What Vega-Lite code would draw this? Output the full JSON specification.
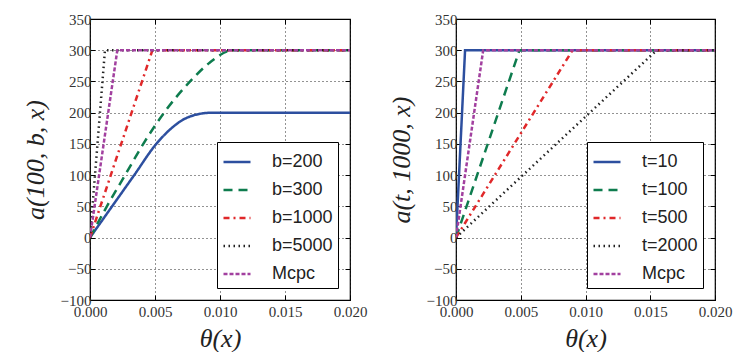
{
  "$schema": "https://vega.github.io/schema/vega-lite/v6.json",
  "padding": {"left": 21, "top": 11, "right": 0, "bottom": 0},
  "background": "white",
  "datasets": {
    "left": [
      {"s": "b=200", "x": 0, "y": 0},
      {"s": "b=200", "x": 0.0017, "y": 50},
      {"s": "b=200", "x": 0.0034, "y": 100},
      {"s": "b=200", "x": 0.0051, "y": 150},
      {"s": "b=200", "x": 0.0061, "y": 172},
      {"s": "b=200", "x": 0.0071, "y": 188},
      {"s": "b=200", "x": 0.0082, "y": 197},
      {"s": "b=200", "x": 0.0094, "y": 200},
      {"s": "b=200", "x": 0.02, "y": 200},
      {"s": "b=300", "x": 0, "y": 0},
      {"s": "b=300", "x": 0.0013, "y": 50},
      {"s": "b=300", "x": 0.0027, "y": 100},
      {"s": "b=300", "x": 0.0041, "y": 150},
      {"s": "b=300", "x": 0.0057, "y": 200},
      {"s": "b=300", "x": 0.0077, "y": 250},
      {"s": "b=300", "x": 0.0092, "y": 280},
      {"s": "b=300", "x": 0.011, "y": 300},
      {"s": "b=300", "x": 0.02, "y": 300},
      {"s": "b=1000", "x": 0, "y": 0},
      {"s": "b=1000", "x": 0.0048, "y": 300},
      {"s": "b=1000", "x": 0.02, "y": 300},
      {"s": "b=5000", "x": 0, "y": 0},
      {"s": "b=5000", "x": 0.00115, "y": 300},
      {"s": "b=5000", "x": 0.02, "y": 300},
      {"s": "Mcpc", "x": 0, "y": 0},
      {"s": "Mcpc", "x": 0.0021, "y": 300},
      {"s": "Mcpc", "x": 0.02, "y": 300}
    ],
    "right": [
      {"s": "t=10", "x": 0, "y": 0},
      {"s": "t=10", "x": 0.0007, "y": 300},
      {"s": "t=10", "x": 0.02, "y": 300},
      {"s": "t=100", "x": 0, "y": 0},
      {"s": "t=100", "x": 0.0049, "y": 300},
      {"s": "t=100", "x": 0.02, "y": 300},
      {"s": "t=500", "x": 0, "y": 0},
      {"s": "t=500", "x": 0.009, "y": 300},
      {"s": "t=500", "x": 0.02, "y": 300},
      {"s": "t=2000", "x": 0, "y": 0},
      {"s": "t=2000", "x": 0.0155, "y": 300},
      {"s": "t=2000", "x": 0.02, "y": 300},
      {"s": "Mcpc", "x": 0, "y": 0},
      {"s": "Mcpc", "x": 0.0021, "y": 300},
      {"s": "Mcpc", "x": 0.02, "y": 300}
    ]
  },
  "hconcat": [
    {
      "width": 260,
      "height": 281,
      "data": {"name": "left"},
      "encoding": {
        "color": {"field": "s", "type": "nominal",
                  "scale": {"domain": ["b=200", "b=300", "b=1000", "b=5000", "Mcpc"], "range": ["#2d4f9f", "#0e7c4e", "#e0282a", "#222222", "#a2409f"]},
                  "legend": {"title": null, "orient": "bottom-right"}},
        "strokeDash": {"field": "s", "type": "nominal",
                  "scale": {"domain": ["b=200", "b=300", "b=1000", "b=5000", "Mcpc"], "range": [[1, 0], [9, 6], [6, 4, 2, 4], [1.5, 3.5], [4, 2]]},
                  "legend": {"title": null, "orient": "bottom-right"}},
        "strokeWidth": {"field": "s", "type": "nominal",
                  "scale": {"domain": ["b=200", "b=300", "b=1000", "b=5000", "Mcpc"], "range": [2.5, 2.5, 2.5, 1.6, 2.5]},
                  "legend": {"title": null, "orient": "bottom-right"}}
      },
      "layer": [
        {
          "transform": [{"filter": "datum.s === 'b=200' || datum.s === 'b=300'"}],
          "mark": {"type": "line", "clip": true, "interpolate": "monotone"},
          "encoding": {
            "x": {"field": "x", "type": "quantitative", "scale": {"domain": [0, 0.02], "nice": false},
                  "axis": {"orient": "bottom", "title": "θ(x)", "values": [0, 0.005, 0.01, 0.015, 0.02], "format": ".3f", "grid": true}},
            "y": {"field": "y", "type": "quantitative", "scale": {"domain": [-100, 350], "nice": false},
                  "axis": {"orient": "left", "title": "a(100, b, x)", "values": [-100, -50, 0, 50, 100, 150, 200, 250, 300, 350], "grid": true}}
          }
        },
        {
          "transform": [{"filter": "datum.s !== 'b=200' && datum.s !== 'b=300'"}],
          "mark": {"type": "line", "clip": true},
          "encoding": {
            "x": {"field": "x", "type": "quantitative", "axis": null},
            "y": {"field": "y", "type": "quantitative", "axis": null}
          }
        },
        {
          "mark": {"type": "point", "opacity": 0},
          "encoding": {
            "x": {"field": "x", "type": "quantitative", "axis": {"orient": "top", "title": null, "labels": false, "grid": false, "values": [0, 0.005, 0.01, 0.015, 0.02]}},
            "y": {"field": "y", "type": "quantitative", "axis": {"orient": "right", "title": null, "labels": false, "grid": false, "values": [-100, -50, 0, 50, 100, 150, 200, 250, 300, 350]}},
            "color": {"value": "transparent"},
            "strokeDash": {"value": [1, 0]},
            "strokeWidth": {"value": 0}
          }
        }
      ],
      "resolve": {"axis": {"x": "independent", "y": "independent"}}
    },
    {
      "width": 259,
      "height": 281,
      "data": {"name": "right"},
      "layer": [
        {
          "mark": {"type": "line", "clip": true},
          "encoding": {
            "x": {"field": "x", "type": "quantitative", "scale": {"domain": [0, 0.02], "nice": false},
                  "axis": {"orient": "bottom", "title": "θ(x)", "values": [0, 0.005, 0.01, 0.015, 0.02], "format": ".3f", "grid": true}},
            "y": {"field": "y", "type": "quantitative", "scale": {"domain": [-100, 350], "nice": false},
                  "axis": {"orient": "left", "title": "a(t, 1000, x)", "values": [-100, -50, 0, 50, 100, 150, 200, 250, 300, 350], "grid": true}},
            "color": {"field": "s", "type": "nominal",
                      "scale": {"domain": ["t=10", "t=100", "t=500", "t=2000", "Mcpc"], "range": ["#2d4f9f", "#0e7c4e", "#e0282a", "#222222", "#a2409f"]},
                      "legend": {"title": null, "orient": "bottom-right"}},
            "strokeDash": {"field": "s", "type": "nominal",
                      "scale": {"domain": ["t=10", "t=100", "t=500", "t=2000", "Mcpc"], "range": [[1, 0], [9, 6], [6, 4, 2, 4], [1.5, 3.5], [4, 2]]},
                      "legend": {"title": null, "orient": "bottom-right"}},
            "strokeWidth": {"field": "s", "type": "nominal",
                      "scale": {"domain": ["t=10", "t=100", "t=500", "t=2000", "Mcpc"], "range": [2.5, 2.5, 2.5, 1.6, 2.5]},
                      "legend": {"title": null, "orient": "bottom-right"}}
          }
        },
        {
          "mark": {"type": "point", "opacity": 0},
          "encoding": {
            "x": {"field": "x", "type": "quantitative", "axis": {"orient": "top", "title": null, "labels": false, "grid": false, "values": [0, 0.005, 0.01, 0.015, 0.02]}},
            "y": {"field": "y", "type": "quantitative", "axis": {"orient": "right", "title": null, "labels": false, "grid": false, "values": [-100, -50, 0, 50, 100, 150, 200, 250, 300, 350]}}
          }
        }
      ],
      "resolve": {"axis": {"x": "independent", "y": "independent"}}
    }
  ],
  "spacing": 106,
  "bounds": "flush",
  "resolve": {"scale": {"color": "independent", "strokeDash": "independent", "strokeWidth": "independent"}, "legend": {"color": "independent", "strokeDash": "independent", "strokeWidth": "independent"}},
  "config": {
    "view": {"stroke": "black", "strokeWidth": 1.2},
    "axis": {
      "domain": false,
      "ticks": true,
      "tickColor": "black",
      "tickSize": -5,
      "tickWidth": 1,
      "labelPadding": 4,
      "labelFlush": false,
      "labelFont": "Liberation Serif",
      "labelFontSize": 15,
      "labelColor": "#333333",
      "titleFont": "Liberation Serif",
      "titleFontSize": 26,
      "titleFontStyle": "italic",
      "titleFontWeight": "normal",
      "titleColor": "#222222",
      "titlePadding": 12,
      "gridColor": "black",
      "gridDash": [1, 3],
      "gridOpacity": 0.85,
      "gridWidth": 1
    },
    "axisX": {"labelPadding": 9, "titlePadding": 6},
    "legend": {
      "strokeColor": "black",
      "strokeWidth": 1,
      "fillColor": "white",
      "padding": 5,
      "offset": 12,
      "cornerRadius": 0,
      "symbolType": "stroke",
      "symbolSize": 729,
      "labelFont": "Liberation Sans",
      "labelFontSize": 18,
      "labelColor": "#222222",
      "labelOffset": 20,
      "rowPadding": 4,
      "symbolOpacity": 1
    }
  }
}
